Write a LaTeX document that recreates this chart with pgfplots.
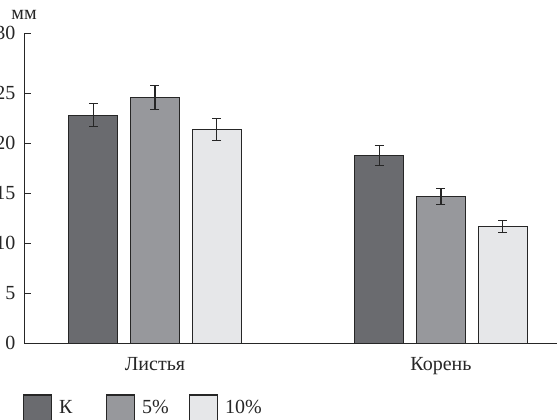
\documentclass[border=0pt]{standalone}
\usepackage{fontspec}
\setmainfont{Liberation Serif}
\usepackage{pgfplots}
\pgfplotsset{compat=1.18}
\definecolor{cK}{RGB}{106,107,111}
\definecolor{cF}{RGB}{151,152,156}
\definecolor{cT}{RGB}{230,231,233}
\definecolor{cEdge}{RGB}{38,38,38}
\begin{document}
\begin{tikzpicture}
\begin{axis}[
  x=286pt, y=10pt,
  xmin=-0.458, xmax=1.406,
  ymin=0, ymax=31,
  axis x line=bottom, axis y line=left,
  axis line style={-, line width=1pt, black!85},
  ybar=12.7pt, bar width=49pt,
  xtick={0,1}, xticklabels={Листья,Корень},
  x tick style={draw=none},
  ytick={0,5,10,15,20,25,31}, yticklabels={0,5,10,15,20,25,30},
  tick align=inside, major tick length=7pt,
  y tick style={line width=1pt, black!85},
  /pgf/number format/assume math mode=true,
  tick label style={font=\fontsize{20}{24}\selectfont, text=black!85},
  yticklabel style={xshift=-5pt},
  xticklabel style={yshift=-11pt},
  ylabel={мм},
  ylabel style={rotate=-90, at={(axis description cs:0,1)}, anchor=south, font=\fontsize{20}{24}\selectfont, yshift=10pt, text=black!85},
  legend columns=3,
  legend style={draw=none, fill=none, inner sep=0pt, outer sep=0pt,
    at={(-0.002,-0.209)}, anchor=west,
    font=\fontsize{20}{24}\selectfont, text=black!85,
    /tikz/every even column/.append style={column sep=9pt},
    /tikz/every odd column/.append style={column sep=7pt},
    nodes={text width=38pt, align=left, inner sep=0pt}},
  error bars/y dir=both, error bars/y explicit,
  error bars/error bar style={line width=1.2pt, black!85},
  error bars/error mark options={rotate=90, mark size=4.5pt, line width=1.2pt, black!85},
  clip=false,
]
\addplot[fill=cK, draw=cEdge, line width=1.1pt,
  legend image code/.code={\draw[fill=cK, draw=cEdge, line width=1.1pt] (0pt,-13pt) rectangle (28pt,13pt);}]
  coordinates {(0,22.8) +- (0,1.15) (1,18.8) +- (0,1.0)};
\addplot[fill=cF, draw=cEdge, line width=1.1pt,
  legend image code/.code={\draw[fill=cF, draw=cEdge, line width=1.1pt] (0pt,-13pt) rectangle (28pt,13pt);}]
  coordinates {(0,24.6) +- (0,1.2) (1,14.7) +- (0,0.8)};
\addplot[fill=cT, draw=cEdge, line width=1.1pt,
  legend image code/.code={\draw[fill=cT, draw=cEdge, line width=1.1pt] (0pt,-13pt) rectangle (28pt,13pt);}]
  coordinates {(0,21.4) +- (0,1.1) (1,11.7) +- (0,0.6)};
\legend{К,5\%,10\%}
\coordinate (bl) at (axis cs:-0.542,-7.67);
\coordinate (tr) at (axis cs:1.406,34.33);
\end{axis}
\pgfresetboundingbox
\path[use as bounding box] (bl) rectangle (tr);
\end{tikzpicture}
\end{document}
